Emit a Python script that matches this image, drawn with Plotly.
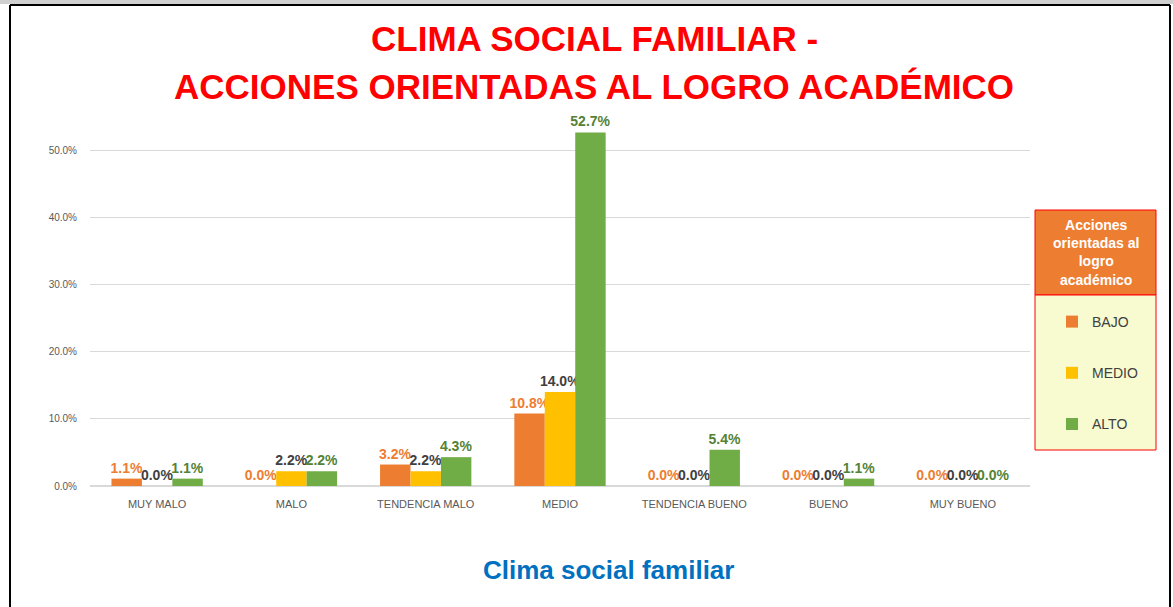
import plotly.graph_objects as go

categories = ["MUY MALO", "MALO", "TENDENCIA MALO", "MEDIO", "TENDENCIA BUENO", "BUENO", "MUY BUENO"]
bajo = [0.011, 0.000, 0.032, 0.108, 0.000, 0.000, 0.000]
medio = [0.000, 0.022, 0.022, 0.140, 0.000, 0.000, 0.000]
alto = [0.011, 0.022, 0.043, 0.527, 0.054, 0.011, 0.000]
series_names = ["BAJO", "MEDIO", "ALTO"]
y_ticks = [0.0, 0.1, 0.2, 0.3, 0.4, 0.5]

bar_colors = ["#ED7D31", "#FFC000", "#70AD47"]
label_colors = ["#ED7D31", "#404040", "#548235"]

fig = go.Figure()
for i, (name, vals) in enumerate(zip(series_names, [bajo, medio, alto])):
    fig.add_trace(go.Bar(
        x=categories, y=vals, name=name,
        marker=dict(color=bar_colors[i], line=dict(width=0)),
        text=[f"<b>{v*100:.1f}%</b>" for v in vals],
        textposition="outside",
        constraintext="none",
        textfont=dict(family="Liberation Sans, Arial", size=14, color=label_colors[i]),
        cliponaxis=False,
        legendgroup=name,
    ))

W, H = 1173, 607
L, R, T, B = 90, 143, 117, 121
pw, ph = W - L - R, H - T - B

def px(xp):
    return (xp - L) / pw

def py(yp):
    return (H - B - yp) / ph

shapes = [
    dict(type="rect", xref="paper", yref="paper", x0=px(-5), x1=px(1180), y0=py(0), y1=py(4),
         fillcolor="#D0D0D0", line=dict(width=0)),
    dict(type="line", xref="paper", yref="paper", x0=px(10), x1=px(10), y0=py(620), y1=py(5),
         line=dict(color="black", width=2)),
    dict(type="line", xref="paper", yref="paper", x0=px(10), x1=px(1170), y0=py(5), y1=py(5),
         line=dict(color="black", width=2)),
    dict(type="line", xref="paper", yref="paper", x0=px(1170), x1=px(1170), y0=py(5), y1=py(620),
         line=dict(color="black", width=2)),
    dict(type="rect", xref="paper", yref="paper", x0=px(1035), x1=px(1156), y0=py(295), y1=py(210),
         fillcolor="#ED7D31", line=dict(color="#FF0000", width=1), layer="below"),
    dict(type="rect", xref="paper", yref="paper", x0=px(1035), x1=px(1156), y0=py(450), y1=py(295),
         fillcolor="#F8FBD0", line=dict(color="#FF0000", width=1), layer="below"),
]

annotations = [
    dict(text="<b>CLIMA SOCIAL FAMILIAR -</b>", xref="paper", yref="paper", x=px(594), y=py(39),
         showarrow=False, font=dict(family="Liberation Sans, Arial", size=35, color="#FF0000"),
         xanchor="center", yanchor="middle"),
    dict(text="<b>ACCIONES ORIENTADAS AL LOGRO ACADÉMICO</b>", xref="paper", yref="paper", x=px(594), y=py(86),
         showarrow=False, font=dict(family="Liberation Sans, Arial", size=35, color="#FF0000"),
         xanchor="center", yanchor="middle"),
    dict(text="<b>Acciones<br>orientadas al<br>logro<br>académico</b>", xref="paper", yref="paper",
         x=px(1095.5), y=py(252), showarrow=False,
         font=dict(family="Liberation Sans, Arial", size=14, color="white"),
         xanchor="center", yanchor="middle"),
    dict(text="<b>Clima social familiar</b>", xref="paper", yref="paper", x=px(608), y=py(570),
         showarrow=False, font=dict(family="Liberation Sans, Arial", size=26, color="#0070C0"),
         xanchor="center", yanchor="middle"),
]

fig.update_layout(
    width=W, height=H,
    margin=dict(l=L, r=R, t=T, b=B),
    paper_bgcolor="white", plot_bgcolor="white",
    barmode="group", bargap=0.32, bargroupgap=0,
    shapes=shapes, annotations=annotations,
    showlegend=True,
    legend=dict(x=px(1052), y=py(306), xanchor="left", yanchor="top",
                bgcolor="rgba(0,0,0,0)", borderwidth=0, tracegroupgap=30,
                font=dict(family="Liberation Sans, Arial", size=14, color="#404040"),
                itemwidth=30),
    font=dict(family="Liberation Sans, Arial"),
)
fig.update_xaxes(showgrid=False, showline=False, ticks="",
                 tickfont=dict(size=11, color="#595959"), ticklabelstandoff=10)
fig.update_yaxes(range=[0, 0.55], tickvals=y_ticks, tickformat=".1%",
                 showgrid=True, gridcolor="#D9D9D9", gridwidth=1, zeroline=True,
                 zerolinecolor="#D9D9D9", showline=False,
                 tickfont=dict(size=10, color="#595959"), ticklabelstandoff=12)

fig.write_html(
    "out.html",
    config={"displayModeBar": False},
    post_script="document.body.style.margin='0';document.body.style.overflow='hidden';",
)
